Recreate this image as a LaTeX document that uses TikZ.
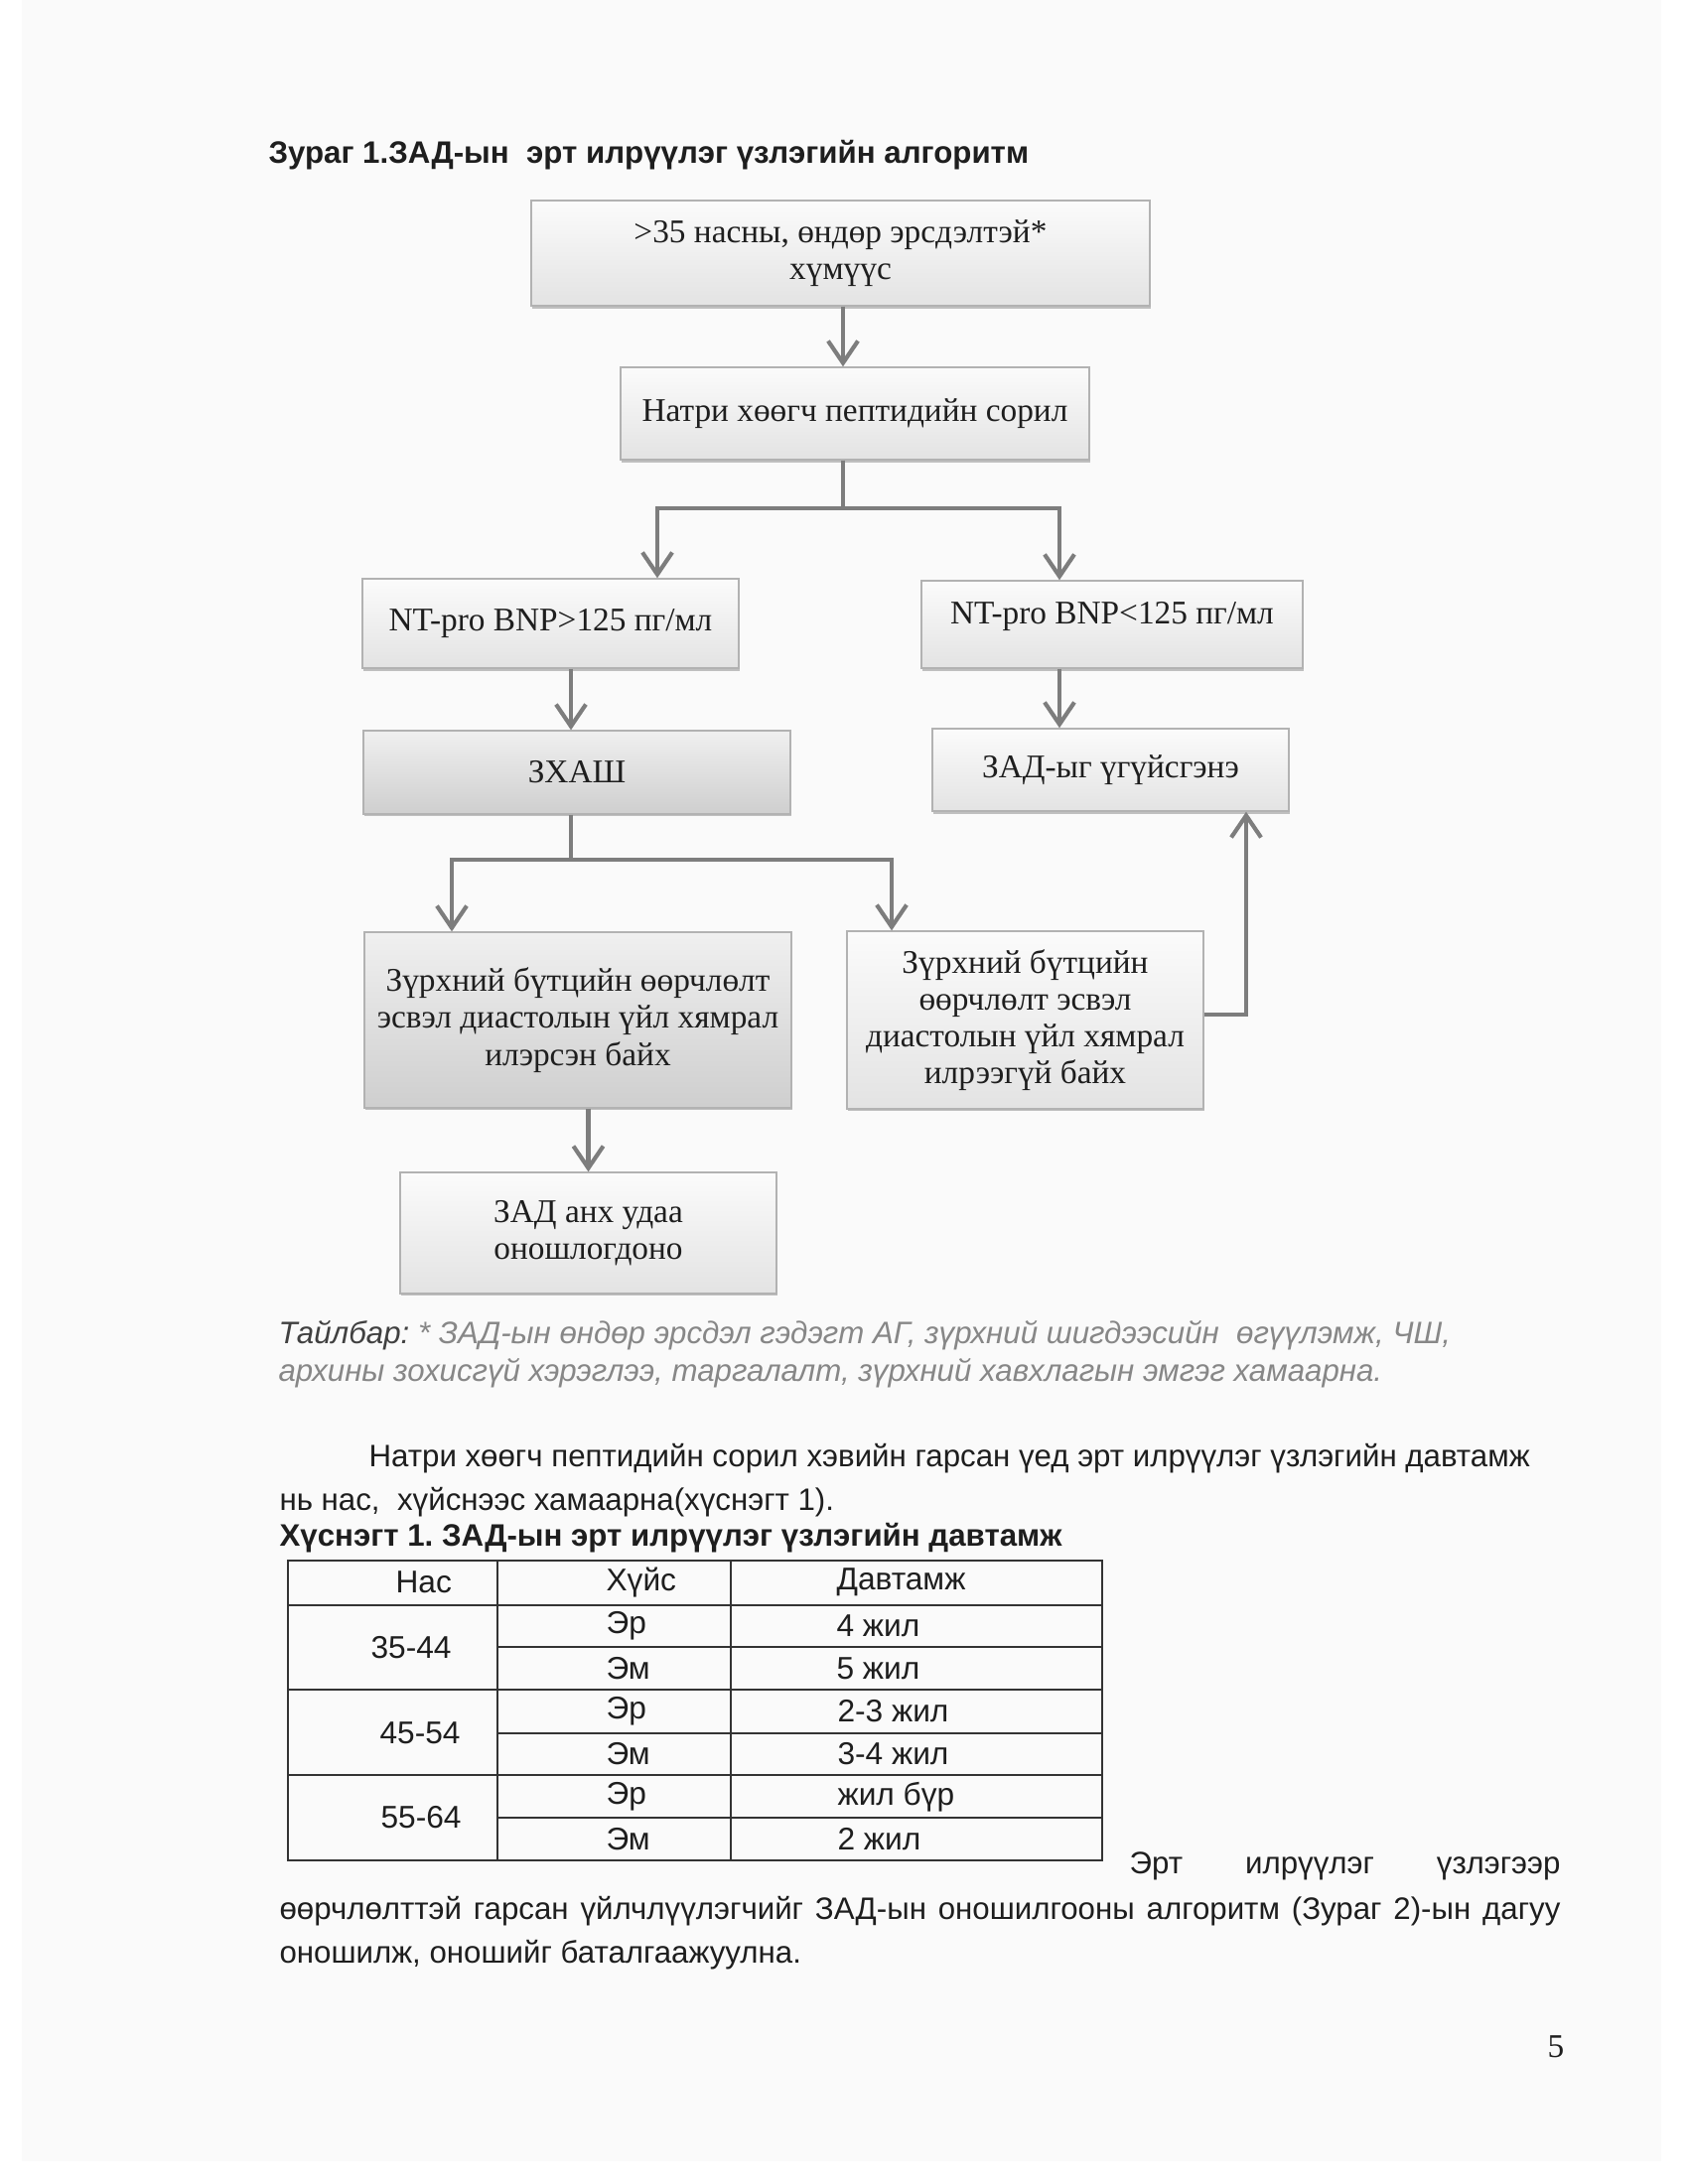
\documentclass[tikz,border=0pt]{standalone}
\usepackage{fontspec}
\setmainfont{Liberation Serif}
\setsansfont{Liberation Sans}
\usetikzlibrary{arrows.meta, positioning, shadows, calc}

\definecolor{arrowgray}{RGB}{125,125,125}
\definecolor{notegray}{RGB}{135,135,135}
\definecolor{textdark}{RGB}{30,30,30}
\definecolor{pagebg}{RGB}{250,250,250}

\begin{document}
\frenchspacing
\begin{tikzpicture}[
      x=0.36pt, y=-0.36pt,
      box/.style={draw=gray!60, line width=0.5pt, rectangle, inner sep=2pt,
        top color=gray!3, bottom color=gray!22,
        drop shadow={shadow xshift=0.5pt, shadow yshift=-0.9pt, fill=gray!80, opacity=0.6},
        align=center, font=\fontsize{12}{13.4}\selectfont\rmfamily, text=textdark},
      darkbox/.style={box, top color=gray!12, bottom color=gray!38},
      arrow/.style={draw=arrowgray, line width=1.5pt, -{Straight Barb[length=2.8mm, width=3.8mm]}},
      line/.style={draw=arrowgray, line width=1.5pt},
      txt/.style={anchor=west, inner sep=0pt, font=\fontsize{11.25}{13.5}\selectfont\sffamily, text=textdark},
      note/.style={txt, font=\fontsize{11.25}{13.5}\selectfont\sffamily\itshape, text=notegray},
      cell/.style={txt, font=\fontsize{11.4}{13.5}\selectfont\sffamily},
      tableline/.style={draw=black!80, line width=0.7pt}
    ]
    \useasboundingbox (0,0) rectangle (1700,2200);

    % Page
    \fill[pagebg] (22,0) rectangle (1673,2177);

    % Heading
    \node[txt, font=\fontsize{11.25}{13.5}\selectfont\sffamily\bfseries] (title) at (270,156)
      {Зураг 1.ЗАД-ын\ \ эрт илрүүлэг үзлэгийн алгоритм};

    % Nodes
    \node[box, minimum width=224.3pt, minimum height=38.2pt] (risk) at (846.5,255)
      {>35 насны, өндөр эрсдэлтэй*\\ хүмүүс};
    \node[box, minimum width=169.9pt, minimum height=33.5pt] (natri) at (861,416.5)
      {Натри хөөгч пептидийн сорил};
    \node[box, minimum width=136.4pt, minimum height=32.4pt] (high) at (554.5,628)
      {NT-pro BNP>125 пг/мл};
    \node[box, minimum width=138.2pt, minimum height=31.7pt, text depth=8pt] (low) at (1120,629)
      {NT-pro BNP<125 пг/мл};
    \node[darkbox, minimum width=154.8pt, minimum height=30.2pt] (zhash) at (581,778)
      {ЗХАШ};
    \node[box, minimum width=129.2pt, minimum height=29.9pt] (excl) at (1118.5,775.5)
      {ЗАД-ыг үгүйсгэнэ};
    \node[darkbox, minimum width=154.8pt, minimum height=63.7pt] (found) at (582,1027.5)
      {Зүрхний бүтцийн өөрчлөлт\\ эсвэл диастолын үйл хямрал\\ илэрсэн байх};
    \node[box, minimum width=129.2pt, minimum height=64.4pt] (notfound) at (1032.5,1027.5)
      {Зүрхний бүтцийн\\ өөрчлөлт эсвэл\\ диастолын үйл хямрал\\ илрээгүй байх};
    \node[box, minimum width=136.4pt, minimum height=43.9pt] (diag) at (592.5,1242)
      {ЗАД анх удаа\\ оношлогдоно};

    % Arrows
    \coordinate (fork1) at (849,512);
    \coordinate (fork1l) at (662,512);
    \coordinate (fork1r) at (1067,512);
    \coordinate (fork2) at (575,866);
    \coordinate (fork2l) at (455,866);
    \coordinate (fork2r) at (898,866);
    \coordinate (back) at (1255,1022);

    \draw[arrow] (risk.south -| fork1) -- (natri.north -| fork1);
    \draw[line] (natri.south -| fork1) -- (fork1);
    \draw[arrow] (fork1) -| (high.north -| fork1l);
    \draw[arrow] (fork1) -| (low.north -| fork1r);
    \draw[arrow] (low.south -| fork1r) -- (excl.north -| fork1r);
    \draw[arrow] (high.south -| fork2) -- (zhash.north -| fork2);
    \draw[line] (zhash.south -| fork2) -- (fork2);
    \draw[arrow] (fork2) -| (found.north -| fork2l);
    \draw[arrow] (fork2) -| (notfound.north -| fork2r);
    \draw[arrow] (found.south -| diag.north) -- (diag.north);
    \draw[arrow] (notfound.east |- back) -| (excl.south -| back);

    % Footnote and text
    \node[note] (note1) at (280,1345)
      {{\color{textdark!85}Тайлбар:} * ЗАД-ын өндөр эрсдэл гэдэгт АГ, зүрхний шигдээсийн\ \ өгүүлэмж, ЧШ,};
    \node[note] (note2) at (280,1383)
      {архины зохисгүй хэрэглээ, таргалалт, зүрхний хавхлагын эмгэг хамаарна.};
    \node[txt] (para1) at (371,1469)
      {Натри хөөгч пептидийн сорил хэвийн гарсан үед эрт илрүүлэг үзлэгийн давтамж};
    \node[txt] (para2) at (281,1513)
      {нь нас,\ \ хүйснээс хамаарна(хүснэгт 1).};
    \node[txt, font=\fontsize{11.25}{13.5}\selectfont\sffamily\bfseries] (tabtitle) at (281,1549)
      {Хүснэгт 1. ЗАД-ын эрт илрүүлэг үзлэгийн давтамж};

    % Table
    \draw[tableline] (290,1572) rectangle (1110,1874);
    \draw[tableline] (501,1572) -- (501,1874);
    \draw[tableline] (736,1572) -- (736,1874);
    \draw[tableline] (290,1617) -- (1110,1617);
    \draw[tableline] (501,1659) -- (1110,1659);
    \draw[tableline] (290,1702) -- (1110,1702);
    \draw[tableline] (501,1746) -- (1110,1746);
    \draw[tableline] (290,1788) -- (1110,1788);
    \draw[tableline] (501,1831) -- (1110,1831);

    \node[cell] (hage) at (398,1594) {Нас};
    \node[cell] (hsex) at (610,1594) {Хүйс};
    \node[cell] (hfreq) at (842,1594) {Давтамж};
    \node[cell] (age1) at (373,1660) {35-44};
    \node[cell] (sex1m) at (610,1638) {Эр};
    \node[cell] (sex1f) at (610,1681) {Эм};
    \node[cell] (freq1m) at (842,1638) {4 жил};
    \node[cell] (freq1f) at (842,1681) {5 жил};
    \node[cell] (age2) at (382,1746) {45-54};
    \node[cell] (sex2m) at (610,1724) {Эр};
    \node[cell] (sex2f) at (610,1767) {Эм};
    \node[cell] (freq2m) at (843,1724) {2-3 жил};
    \node[cell] (freq2f) at (843,1767) {3-4 жил};
    \node[cell] (age3) at (383,1831) {55-64};
    \node[cell] (sex3m) at (610,1810) {Эр};
    \node[cell] (sex3f) at (610,1853) {Эм};
    \node[cell] (freq3m) at (843,1810) {жил бүр};
    \node[cell] (freq3f) at (843,1853) {2 жил};

    % Closing paragraph
    \node[txt] (end1) at (1137,1880) {\makebox[156.2pt][s]{Эрт илрүүлэг үзлэгээр}};
    \node[txt] (end2) at (281,1925)
      {\makebox[464.4pt][s]{өөрчлөлттэй гарсан үйлчлүүлэгчийг ЗАД-ын оношилгооны алгоритм (Зураг 2)-ын дагуу}};
    \node[txt] (end3) at (281,1969) {оношилж, оношийг баталгаажуулна.};

    % Page number
    \node[font=\fontsize{12}{14}\selectfont\rmfamily, text=textdark] (pagenum) at (1567,2062) {5};
    \end{tikzpicture}
\end{document}
